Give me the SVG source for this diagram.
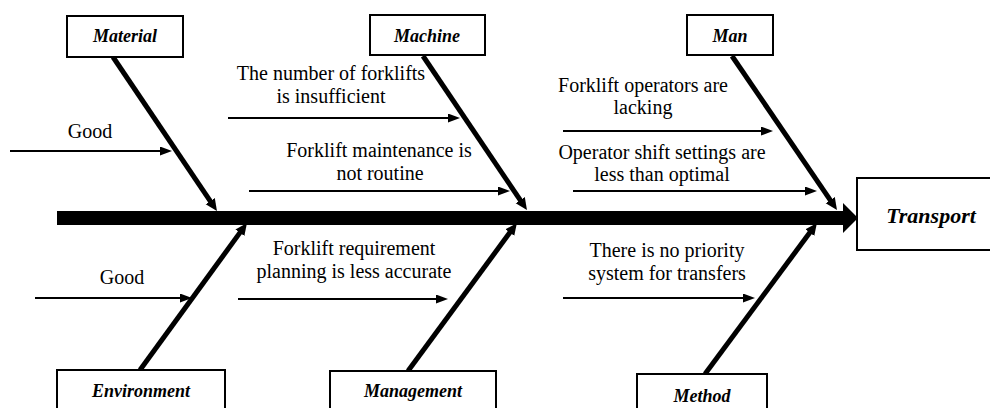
<svg xmlns="http://www.w3.org/2000/svg" width="990" height="408" viewBox="0 0 990 408">
<style>
  text { font-family: 'Liberation Serif', 'Times New Roman', serif; fill: #000; }
  .t { font-size: 20px; text-anchor: middle; }
  .lbl { font-size: 18px; font-weight: bold; font-style: italic; text-anchor: middle; }
  .box { fill: #fff; stroke: #000; stroke-width: 2; }
  .bone { stroke: #000; stroke-width: 5; fill: none; marker-end: url(#bh); }
  .arr { stroke: #000; stroke-width: 2; fill: none; marker-end: url(#ah); }
</style>
<defs>
  <marker id="ah" markerUnits="userSpaceOnUse" markerWidth="13" markerHeight="10" refX="1" refY="4.5" orient="auto">
    <path d="M0,0 L12,4.5 L0,9 z" fill="#000"/>
  </marker>
  <marker id="bh" markerUnits="userSpaceOnUse" markerWidth="13" markerHeight="12" refX="1" refY="5.5" orient="auto">
    <path d="M0,0 L12,5.5 L0,11 z" fill="#000"/>
  </marker>
</defs>
<rect width="990" height="408" fill="#fff"/>

<g id="connectors">
  <rect x="57" y="211" width="788" height="14" fill="#000"/>
  <path d="M843,203 L858,218 L843,233 z" fill="#000"/>
  <line class="bone" x1="113" y1="57" x2="210.8" y2="201.9"/>
  <line class="bone" x1="423" y1="56" x2="520.8" y2="200.9"/>
  <line class="bone" x1="732" y1="56" x2="830.8" y2="200.9"/>
  <line class="bone" x1="140" y1="370" x2="240.5" y2="231.9"/>
  <line class="bone" x1="408" y1="371" x2="510.4" y2="231.8"/>
  <line class="bone" x1="705" y1="374" x2="810.4" y2="231.8"/>
  <line class="arr" x1="10" y1="151" x2="161" y2="151"/>
  <line class="arr" x1="228" y1="118" x2="449" y2="118"/>
  <line class="arr" x1="249" y1="191" x2="499" y2="191"/>
  <line class="arr" x1="563" y1="131" x2="762" y2="131"/>
  <line class="arr" x1="573" y1="191" x2="806" y2="191"/>
  <line class="arr" x1="35" y1="298" x2="181" y2="298"/>
  <line class="arr" x1="238" y1="299" x2="437" y2="299"/>
  <line class="arr" x1="563" y1="298" x2="744" y2="298"/>
</g>

<g id="cause-texts">
  <text class="t" x="90" y="138">Good</text>
  <text class="t" x="331" y="80">The number of forklifts</text>
  <text class="t" x="331" y="103">is insufficient</text>
  <text class="t" x="379" y="157">Forklift maintenance is</text>
  <text class="t" x="380" y="180">not routine</text>
  <text class="t" x="643" y="92">Forklift operators are</text>
  <text class="t" x="643" y="114">lacking</text>
  <text class="t" x="662" y="159">Operator shift settings are</text>
  <text class="t" x="662" y="181">less than optimal</text>
  <text class="t" x="122" y="284">Good</text>
  <text class="t" x="354" y="255">Forklift requirement</text>
  <text class="t" x="354" y="278">planning is less accurate</text>
  <text class="t" x="667" y="257">There is no priority</text>
  <text class="t" x="667" y="280">system for transfers</text>
</g>

<g id="material"><rect class="box" x="67" y="16" width="116" height="41"/><text class="lbl" x="125" y="42">Material</text></g>
<g id="machine"><rect class="box" x="370" y="15" width="115" height="40"/><text class="lbl" x="427" y="42">Machine</text></g>
<g id="man"><rect class="box" x="687" y="15" width="86" height="40"/><text class="lbl" x="730" y="42">Man</text></g>
<g id="environment"><rect class="box" x="57" y="370" width="168" height="45"/><text class="lbl" x="141" y="397">Environment</text></g>
<g id="management"><rect class="box" x="330" y="371" width="166" height="45"/><text class="lbl" x="413" y="397">Management</text></g>
<g id="method"><rect class="box" x="637" y="374" width="130" height="45"/><text class="lbl" x="702" y="402">Method</text></g>
<g id="transport"><rect class="box" x="857" y="178" width="145" height="72"/><text class="lbl" x="931" y="223" style="font-size:22px">Transport</text></g>
</svg>
